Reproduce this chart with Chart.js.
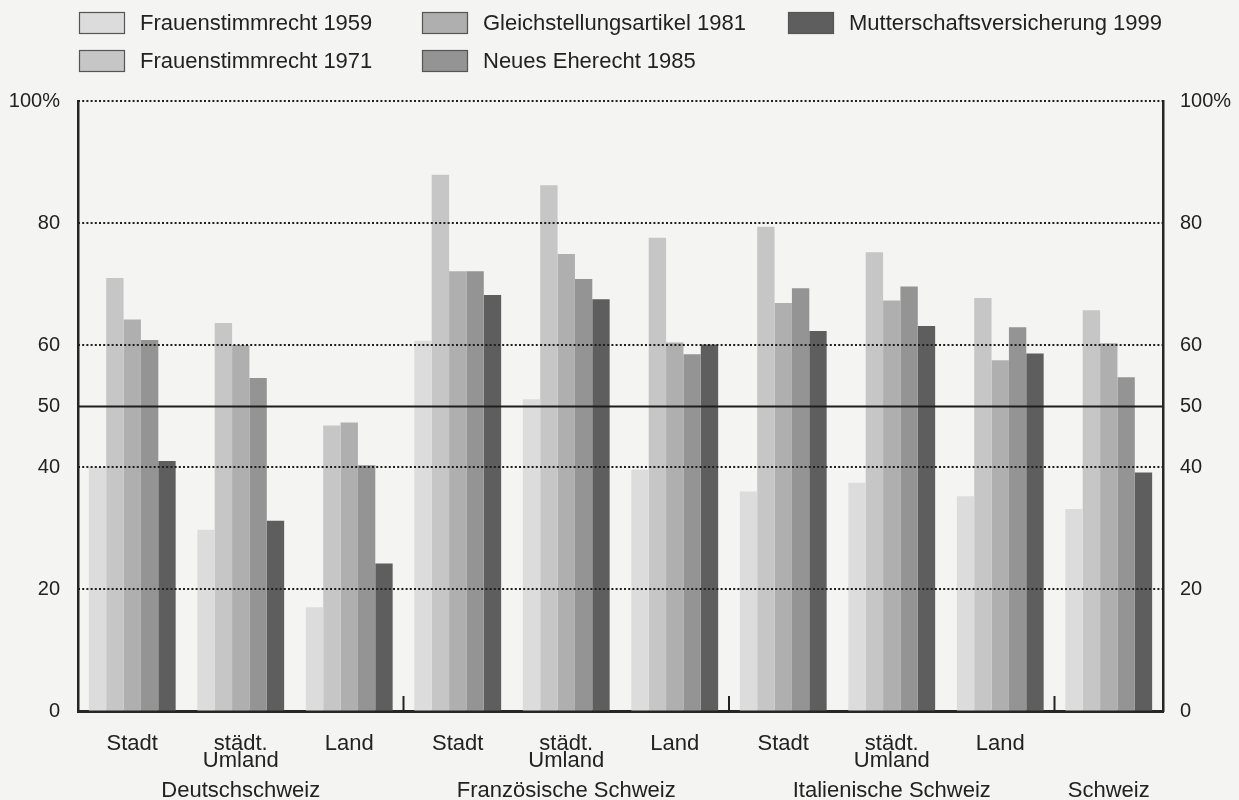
<!DOCTYPE html>
<html>
<head>
<meta charset="utf-8">
<script src="https://cdn.jsdelivr.net/npm/chart.js@4"></script>
<style>
  html, body { margin: 0; padding: 0; background: #f4f4f2; }
  #wrap { width: 1239px; height: 800px; }
</style>
</head>
<body>
<div id="wrap"><canvas id="c" width="1239" height="800"></canvas></div>
<script>
"use strict";
// categories and groups
var categories = ['Stadt', ['städt.', 'Umland'], 'Land',
                  'Stadt', ['städt.', 'Umland'], 'Land',
                  'Stadt', ['städt.', 'Umland'], 'Land',
                  ''];
var groupNames = ['Deutschschweiz', 'Französische Schweiz', 'Italienische Schweiz', 'Schweiz'];
var groupFirst = [0, 3, 6, 9];
var groupLast  = [2, 5, 8, 9];

// series (percent yes)
var seriesNames = ['Frauenstimmrecht 1959', 'Frauenstimmrecht 1971', 'Gleichstellungsartikel 1981',
                   'Neues Eherecht 1985', 'Mutterschaftsversicherung 1999'];
var frauen1959  = [40.0, 29.7, 17.0, 60.7, 51.1, 39.6, 36.0, 37.4, 35.2, 33.1];
var frauen1971  = [71.0, 63.6, 46.8, 87.9, 86.2, 77.6, 79.4, 75.2, 67.7, 65.7];
var gleich1981  = [64.2, 60.0, 47.3, 72.1, 74.9, 60.4, 66.9, 67.3, 57.5, 60.3];
var eherecht1985 = [60.8, 54.6, 40.3, 72.1, 70.8, 58.5, 69.3, 69.6, 62.9, 54.7];
var mutter1999  = [41.0, 31.2, 24.2, 68.2, 67.5, 60.1, 62.3, 63.1, 58.6, 39.1];

// y ticks
var yTicks = [0, 20, 40, 50, 60, 80, 100];
var dottedAt = [20, 40, 60, 80, 100];
var solidAt = [50];

var greys = ['#dcdcdc', '#c6c6c6', '#afafaf', '#949494', '#5e5e5e'];
var FONT = "'Liberation Sans', Arial, sans-serif";
var ink = '#222';

var seriesValues = [frauen1959, frauen1971, gleich1981, eherecht1985, mutter1999];

var pageBg = {
    id: 'pageBg',
    beforeDraw: (chart) => {
        var ctx = chart.ctx;
        ctx.save();
        ctx.fillStyle = '#f4f4f2';
        ctx.fillRect(0, 0, chart.width, chart.height);
        ctx.restore();
    }
};

var extras = {
    id: 'extras',
    afterDatasetsDraw: (chart) => {
        var ctx = chart.ctx, area = chart.chartArea;
        var y = chart.scales.y, x = chart.scales.x;
        ctx.save();
        // dotted grid lines over bars
        ctx.strokeStyle = '#1e1e1e';
        ctx.lineWidth = 2;
        ctx.setLineDash([2, 2.2]);
        dottedAt.forEach((v) => {
            var py = Math.round(y.getPixelForValue(v));
            ctx.beginPath();
            ctx.moveTo(area.left, py);
            ctx.lineTo(area.right, py);
            ctx.stroke();
        });
        ctx.setLineDash([]);
        ctx.lineWidth = 2;
        ctx.strokeStyle = '#1e1e1e';
        solidAt.forEach((v) => {
            var py = Math.round(y.getPixelForValue(v)) + 0.5;
            ctx.beginPath();
            ctx.moveTo(area.left, py);
            ctx.lineTo(area.right, py);
            ctx.stroke();
        });
        // separator ticks between regions
        ctx.lineWidth = 2;
        ctx.strokeStyle = '#222';
        for (var g = 1; g < groupFirst.length; g++) {
            var px = (x.getPixelForValue(groupFirst[g] - 1) + x.getPixelForValue(groupFirst[g])) / 2;
            ctx.beginPath();
            ctx.moveTo(px, area.bottom);
            ctx.lineTo(px, area.bottom - 15);
            ctx.stroke();
        }
        ctx.restore();
    },
    afterDraw: (chart) => {
        var ctx = chart.ctx, x = chart.scales.x;
        ctx.save();
        // region names
        ctx.fillStyle = ink;
        ctx.font = '22px ' + FONT;
        ctx.textAlign = 'center';
        ctx.textBaseline = 'middle';
        groupNames.forEach((name, i) => {
            var cx = (x.getPixelForValue(groupFirst[i]) + x.getPixelForValue(groupLast[i])) / 2;
            ctx.fillText(name, cx, 791);
        });
        // legend, three columns
        var cols = [79, 422, 788], rows = [23, 61];
        chart.data.datasets.forEach((ds, i) => {
            var lx = cols[Math.floor(i / 2)], ly = rows[i % 2];
            ctx.fillStyle = ds.backgroundColor;
            ctx.fillRect(lx, ly - 11, 46, 22);
            ctx.strokeStyle = '#555';
            ctx.lineWidth = 1.2;
            ctx.strokeRect(lx + 0.5, ly - 10.5, 45, 21);
            ctx.fillStyle = ink;
            ctx.textAlign = 'left';
            ctx.fillText(ds.label, lx + 61, ly + 1);
        });
        ctx.restore();
    }
};

var yTickOpts = (pad) => ({
    padding: pad,
    color: ink,
    font: { family: FONT, size: 20 },
    callback: (v) => v === 100 ? '100%' : v
});

new Chart(document.getElementById('c'), {
    type: 'bar',
    data: {
        labels: categories,
        datasets: seriesValues.map((vals, i) => ({
            label: seriesNames[i],
            data: vals,
            backgroundColor: greys[i],
            borderWidth: 0,
            categoryPercentage: 0.8,
            barPercentage: 1.0
        }))
    },
    options: {
        responsive: false,
        animation: false,
        devicePixelRatio: 1,
        layout: { padding: { top: 101, left: 0, right: 0, bottom: 0 } },
        plugins: { legend: { display: false }, tooltip: { enabled: false } },
        scales: {
            x: {
                grid: { display: false },
                border: { display: true, color: '#262626', width: 3 },
                ticks: {
                    padding: 16,
                    color: ink,
                    maxRotation: 0,
                    autoSkip: false,
                    font: { family: FONT, size: 22, lineHeight: 0.78 }
                },
                afterFit: (s) => { s.height = 89; }
            },
            y: {
                position: 'left',
                min: 0, max: 100,
                afterBuildTicks: (s) => { s.ticks = yTicks.map((v) => ({ value: v })); },
                grid: { display: true, drawOnChartArea: false, drawTicks: false },
                border: { display: true, color: '#262626', width: 2.5 },
                ticks: yTickOpts(18),
                afterFit: (s) => { s.width = 78; }
            },
            yRight: {
                position: 'right',
                min: 0, max: 100,
                afterBuildTicks: (s) => { s.ticks = yTicks.map((v) => ({ value: v })); },
                grid: { display: true, drawOnChartArea: false, drawTicks: false },
                border: { display: true, color: '#262626', width: 2.5 },
                ticks: yTickOpts(17),
                afterFit: (s) => { s.width = 76; }
            }
        }
    },
    plugins: [pageBg, extras]
});
</script>
</body>
</html>
